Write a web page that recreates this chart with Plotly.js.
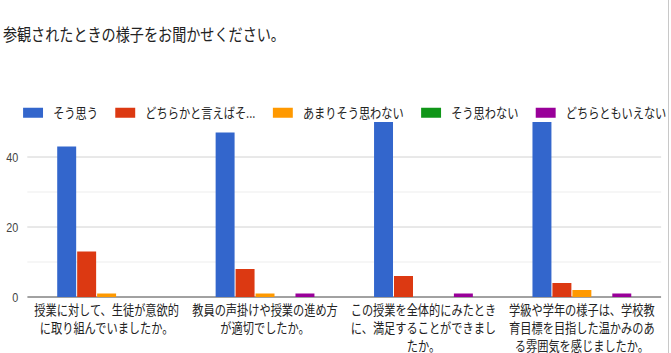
<!DOCTYPE html>
<html>
<head>
<meta charset="utf-8">
<script src="https://cdn.plot.ly/plotly-3.0.1.min.js"></script>
<style>
  html, body { margin: 0; padding: 0; background: #fff; overflow: hidden; }
  #frame { position: absolute; left: 0; top: 0; width: 668px; height: 353px; border-right: 1px solid #c8c8c8; overflow: hidden; }
  #chart { position: absolute; left: 0; top: 0; width: 808px; height: 353px; transform: scaleX(0.8305); transform-origin: 0 0; }
</style>
</head>
<body>
<div id="frame"><div id="chart"></div></div>
<script>
const categories = [
  "授業に対して、生徒が意欲的<br>に取り組んでいましたか。",
  "教員の声掛けや授業の進め方<br>が適切でしたか。",
  "この授業を全体的にみたとき<br>に、満足することができまし<br>たか。",
  "学級や学年の様子は、学校教<br>育目標を目指した温かみのあ<br>る雰囲気を感じましたか。"
];
const seriesNames = ["そう思う", "どちらかと言えばそ...", "あまりそう思わない", "そう思わない", "どちらともいえない"];
const sougomou      = [43, 47, 51, 51];
const dochiraka     = [13, 8, 6, 4];
const amari         = [1, 1, 0, 2];
const souomowanai   = [0, 0, 0, 0];
const dochiramo     = [0, 1, 1, 1];
const seriesValues = [sougomou, dochiraka, amari, souomowanai, dochiramo];
const colors = ["#3366cc", "#dc3912", "#ff9900", "#109618", "#990099"];
const yTicks = [0, 20, 40];

const FONT = '"Noto Sans CJK JP", "Noto Sans", sans-serif';
const LABEL_FONT = '"DejaVu Sans", "Noto Sans CJK JP", sans-serif';

const traces = seriesNames.map((name, i) => ({
  type: 'bar',
  name: name,
  x: categories,
  y: seriesValues[i],
  marker: { color: colors[i] },
  hoverinfo: 'none'
}));

const layout = {
  width: 808,
  height: 353,
  margin: { l: 32.5, r: 12, t: 122, b: 56 },
  paper_bgcolor: '#fff',
  plot_bgcolor: '#fff',
  font: { family: FONT, color: '#222', size: 13 },
  title: {
    text: '参観されたときの様子をお聞かせください。',
    font: { family: FONT, size: 17, color: '#222' },
    xref: 'container', yref: 'container',
    x: 3.5 / 808, xanchor: 'left',
    y: 1 - 35 / 353, yanchor: 'middle'
  },
  barmode: 'group',
  bargap: 0.37,
  bargroupgap: 0.05,
  showlegend: true,
  legend: {
    orientation: 'h',
    x: -0.024, xanchor: 'left',
    y: 1 + 9 / 175, yanchor: 'middle',
    font: { family: FONT, size: 13.5, color: '#222' },
    itemwidth: 42,
    traceorder: 'normal',
    bgcolor: 'rgba(0,0,0,0)'
  },
  xaxis: {
    type: 'category',
    showgrid: false,
    showline: false,
    ticks: '',
    ticklabelstandoff: 4,
    tickfont: { family: LABEL_FONT, size: 13.5, color: '#222' },
    tickangle: 0,
    fixedrange: true
  },
  yaxis: {
    range: [0, 50],
    tickvals: yTicks,
    ticktext: yTicks.map(String),
    showgrid: true,
    gridcolor: '#d9d9d9',
    gridwidth: 1,
    minor: { dtick: 10, tick0: 0, showgrid: true, gridcolor: '#ebebeb', gridwidth: 1, ticks: '' },
    zeroline: true,
    zerolinecolor: '#333',
    zerolinewidth: 1,
    showline: false,
    ticks: '',
    ticklabelstandoff: 10,
    tickfont: { family: 'Arial, "Liberation Sans", sans-serif', size: 13, color: '#444' },
    fixedrange: true
  }
};

Plotly.newPlot('chart', traces, layout, { displayModeBar: false, staticPlot: true }).then(gd => {
  // widen legend keys into the flat rectangles used by the original chart
  gd.querySelectorAll('.legend .legendpoints path').forEach(p => {
    p.setAttribute('d', 'M-10.2,5H13.8V-5H-10.2Z');
  });
});
</script>
</body>
</html>
